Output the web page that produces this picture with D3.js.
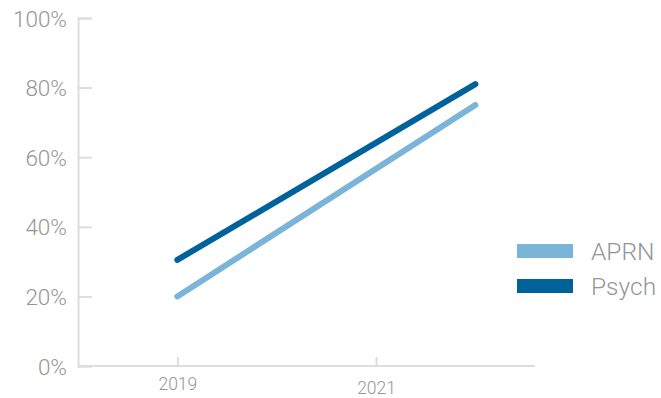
<!DOCTYPE html>
<html>
<head>
<meta charset="utf-8">
<script src="https://cdn.jsdelivr.net/npm/d3@7"></script>
<style>
  body { margin: 0; background: #fff; }
  text { font-family: Roboto, "Open Sans", sans-serif; font-weight: 300; fill: #969696; }
</style>
</head>
<body>
<div id="chart"></div>
<script>
// data
const years = [2019, 2022];
const aprn = [0.20, 0.75];
const psych = [0.305, 0.81];
const xTicks = [2019, 2021];
const yTicks = [0, 0.2, 0.4, 0.6, 0.8, 1];
const seriesNames = ["APRN", "Psych"];
const colors = ["#7ab4d8", "#00629b"];

const width = 661, height = 398;
const margin = { top: 18, right: 126, bottom: 32, left: 78 };

const svg = d3.select("#chart").append("svg")
    .attr("width", width)
    .attr("height", height);

const x = d3.scaleLinear().domain([2018, 2022.6]).range([margin.left, width - margin.right]);
const y = d3.scaleLinear().domain([0, 1]).range([height - margin.bottom, margin.top]);

// y axis
const yAxis = svg.append("g")
    .attr("transform", `translate(${margin.left},0)`)
    .call(d3.axisRight(y).tickValues(yTicks).tickSize(14).tickFormat(d3.format(".0%")));
yAxis.select(".domain").attr("stroke", "#ddd").attr("stroke-width", 2);
yAxis.selectAll(".tick line").attr("stroke", "#ddd").attr("stroke-width", 2);
yAxis.selectAll(".tick text")
    .attr("x", -11)
    .attr("text-anchor", "end")
    .attr("dy", "0.36em")
    .style("font-size", "22.5px");

// x axis
const xAxis = svg.append("g")
    .attr("transform", `translate(0,${y(0)})`)
    .call(d3.axisTop(x).tickValues(xTicks).tickSize(9).tickFormat(d3.format("d")));
xAxis.select(".domain").attr("stroke", "#ddd").attr("stroke-width", 2).attr("d", `M${margin.left},0H${width - margin.right}`);
xAxis.selectAll(".tick line").attr("stroke", "#ddd").attr("stroke-width", 2);
xAxis.selectAll(".tick text")
    .attr("y", (d, i) => i === 0 ? 24 : 28)
    .attr("dy", 0)
    .style("font-size", "17.5px");

// lines
const line = d3.line().x(d => x(d[0])).y(d => y(d[1]));
const series = [aprn, psych];
svg.selectAll(".serie")
    .data(series)
    .enter().append("path")
    .attr("class", "serie")
    .attr("fill", "none")
    .attr("stroke", (d, i) => colors[i])
    .attr("stroke-width", 6)
    .attr("stroke-linecap", "round")
    .attr("d", d => line(years.map((yr, i) => [yr, d[i]])));

// legend
const legend = svg.selectAll(".legend-group")
    .data(seriesNames)
    .enter().append("g")
    .attr("class", "legend-group")
    .attr("transform", (d, i) => `translate(517, ${244 + i * 35})`);
legend.append("rect")
    .attr("width", 56)
    .attr("height", 14)
    .attr("fill", (d, i) => colors[i]);
legend.append("text")
    .attr("x", 74)
    .attr("y", 7)
    .attr("dy", "0.36em")
    .style("font-size", "24.5px")
    .text(d => d);
</script>
</body>
</html>
